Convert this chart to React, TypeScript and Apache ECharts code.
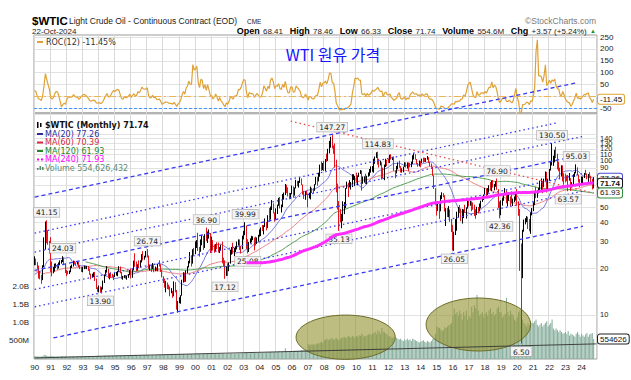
import React, { useEffect, useRef } from "react";
import * as echarts from "echarts";

// ---------------- data (monthly, continuous contract) ----------------
// closes Apr 1983 .. Dec 1989 (used only for moving averages / ROC warm-up)
const PRE_1990_CLOSES: number[] = [
  30.6, 30.4, 31.1, 31.7, 32.0, 30.9, 30.0, 29.2, 29.7,
  29.9, 30.5, 30.9, 30.2, 30.4, 29.7, 27.9, 29.4, 29.4, 28.4, 27.7, 26.4,
  25.9, 27.3, 28.3, 27.2, 27.5, 27.2, 27.4, 28.0, 29.4, 30.8, 30.3, 26.3,
  18.8, 13.3, 10.4, 13.4, 14.9, 12.8, 11.1, 15.9, 14.8, 15.3, 15.0, 17.9,
  18.4, 16.6, 18.8, 18.7, 19.4, 20.3, 20.9, 19.6, 19.6, 19.9, 18.2, 16.7,
  17.0, 16.2, 16.7, 17.9, 17.5, 15.2, 16.0, 15.3, 13.6, 13.8, 14.1, 17.2,
  18.0, 18.0, 20.4, 20.4, 19.8, 20.2, 19.8, 18.7, 20.1, 20.4, 19.7, 21.8,
];

// Jan 1990 .. Oct 2024
const CLOSES: number[] = [
  22.7, 21.5, 20.3, 18.5, 17.5, 16.9, 20.7, 27.3, 39.5, 35.2, 29.6, 28.4,
  21.5, 19.2, 19.6, 20.8, 21.2, 20.2, 21.4, 22.2, 22.2, 23.4, 21.5, 19.1,
  18.9, 18.7, 19.1, 20.4, 21.0, 21.9, 21.8, 21.4, 21.9, 20.6, 20.3, 19.5,
  20.3, 20.4, 20.2, 20.4, 19.6, 18.4, 17.5, 17.9, 18.7, 16.9, 15.0, 14.2,
  15.2, 14.5, 14.7, 16.4, 18.1, 19.1, 19.7, 17.6, 18.4, 18.2, 18.0, 17.8,
  18.4, 18.5, 19.2, 20.4, 18.9, 17.4, 17.6, 17.8, 17.5, 17.6, 18.2, 19.6,
  17.7, 19.5, 21.5, 21.2, 19.8, 20.9, 20.4, 22.3, 24.4, 23.4, 23.8, 25.9,
  24.2, 20.3, 20.4, 20.2, 20.9, 19.8, 20.1, 19.6, 21.2, 21.1, 19.2, 17.6,
  17.2, 15.4, 15.6, 15.4, 15.2, 14.2, 14.2, 13.4, 16.1, 14.4, 11.2, 12.1,
  12.8, 13.4, 16.8, 18.7, 16.8, 19.3, 20.5, 22.1, 24.5, 21.8, 26.2, 25.6,
  27.6, 30.4, 26.9, 25.7, 29.0, 32.5, 27.4, 33.1, 30.8, 32.7, 33.8, 26.8,
  28.7, 27.4, 26.3, 28.5, 28.4, 26.3, 26.4, 27.2, 23.4, 21.2, 19.4, 19.8,
  19.5, 21.7, 26.3, 27.3, 25.3, 26.9, 27.0, 28.9, 30.5, 27.2, 26.9, 31.2,
  33.5, 36.6, 31.0, 25.8, 29.6, 30.2, 30.5, 31.6, 29.2, 29.1, 30.4, 32.5,
  33.1, 36.2, 35.8, 37.4, 39.9, 37.1, 43.8, 42.1, 49.6, 51.8, 49.1, 43.5,
  48.2, 51.8, 55.4, 49.7, 51.97, 56.5, 60.6, 68.9, 66.2, 59.8, 57.3, 61.0,
  67.9, 61.4, 66.6, 71.9, 71.3, 73.9, 74.4, 70.3, 62.9, 58.7, 63.1, 61.1,
  58.1, 61.8, 65.9, 65.7, 64.0, 70.7, 78.2, 74.0, 81.7, 94.5, 88.7, 95.98,
  91.8, 101.8, 101.6, 113.5, 127.4, 140.0, 124.1, 115.5, 100.6, 67.8, 54.4, 44.6,
  41.7, 44.8, 49.7, 51.1, 66.3, 69.9, 69.5, 69.96, 70.6, 77.0, 77.3, 79.4,
  72.9, 79.7, 83.8, 86.2, 74.0, 75.6, 78.95, 71.9, 79.97, 81.4, 84.1, 91.4,
  92.2, 97.0, 106.7, 113.9, 102.7, 95.4, 95.7, 88.8, 79.2, 93.2, 100.4, 98.8,
  98.5, 107.1, 103.0, 104.9, 86.5, 84.96, 88.1, 96.5, 92.2, 86.2, 88.9, 91.8,
  97.5, 92.1, 97.2, 93.5, 91.97, 96.6, 105.0, 107.7, 102.3, 96.4, 92.7, 98.4,
  97.5, 102.6, 101.6, 99.7, 102.7, 105.4, 98.2, 96.0, 91.2, 80.5, 66.2, 53.3,
  48.2, 49.8, 47.6, 59.6, 60.3, 59.5, 47.1, 49.2, 45.1, 46.6, 41.7, 37.0,
  33.6, 33.8, 38.3, 45.9, 49.1, 48.3, 41.6, 44.7, 48.2, 46.9, 49.4, 53.7,
  52.8, 54.0, 50.6, 49.3, 48.3, 46.0, 50.2, 47.2, 51.7, 54.4, 57.4, 60.4,
  64.7, 61.6, 64.9, 68.6, 67.0, 74.2, 68.8, 69.8, 73.3, 65.3, 50.9, 45.4,
  53.8, 57.2, 60.1, 63.9, 53.5, 58.5, 58.6, 55.1, 54.1, 54.2, 55.2, 61.1,
  51.6, 44.8, 20.5, 18.8, 35.5, 39.3, 40.3, 42.6, 40.2, 35.8, 45.3, 48.5,
  52.2, 61.5, 59.2, 63.6, 66.3, 73.5, 73.95, 68.5, 75.0, 83.6, 66.2, 75.2,
  88.2, 95.7, 100.3, 104.7, 114.7, 105.8, 98.6, 89.6, 79.5, 86.5, 80.6, 80.3,
  78.9, 77.1, 75.7, 76.8, 68.1, 70.6, 81.8, 83.6, 90.8, 81.02, 75.96, 71.65,
  75.85, 78.26, 83.17, 81.93, 76.99, 81.54, 77.91, 73.55, 68.17, 71.74,
];

const HIGHS: number[] = [
  24.0, 23.2, 22.0, 20.9, 19.3, 18.2, 21.0, 31.9, 40.4, 41.15, 35.5, 30.2,
  32.0, 22.2, 20.5, 21.5, 21.6, 21.4, 21.9, 22.6, 22.7, 24.03, 23.6, 21.5,
  19.6, 19.3, 19.4, 20.8, 21.2, 22.5, 22.4, 21.9, 22.2, 22.0, 21.0, 20.5,
  20.5, 20.9, 20.8, 20.8, 20.7, 19.9, 18.5, 18.5, 18.9, 19.0, 17.2, 15.1,
  15.5, 15.3, 15.1, 16.7, 18.3, 19.6, 20.7, 19.9, 18.6, 18.9, 18.5, 18.1,
  18.9, 19.0, 19.3, 20.7, 20.6, 19.0, 17.9, 18.1, 18.1, 17.9, 18.4, 19.6,
  20.0, 19.8, 22.5, 25.1, 22.2, 21.3, 22.6, 22.6, 24.8, 25.9, 24.2, 26.0,
  26.74, 24.3, 21.2, 21.2, 21.7, 21.0, 20.6, 20.3, 21.4, 22.6, 21.3, 19.6,
  17.8, 17.2, 16.6, 16.2, 15.7, 15.3, 14.9, 14.3, 16.5, 16.3, 14.5, 12.3,
  13.0, 13.4, 16.9, 18.9, 18.8, 19.4, 20.7, 22.4, 25.6, 24.4, 26.7, 27.2,
  30.0, 30.6, 34.1, 27.6, 30.9, 33.0, 32.6, 33.4, 36.9, 34.8, 35.9, 34.0,
  32.2, 30.6, 28.6, 28.8, 29.6, 29.5, 27.6, 28.5, 29.9, 23.5, 22.6, 20.6,
  21.6, 21.9, 26.4, 27.6, 29.4, 27.2, 27.9, 29.9, 30.9, 30.9, 28.1, 32.7,
  35.1, 39.99, 38.0, 31.0, 29.7, 31.4, 32.6, 32.4, 31.8, 32.2, 31.8, 33.1,
  35.9, 37.0, 38.4, 38.2, 42.3, 40.2, 44.4, 49.4, 50.5, 55.7, 53.0, 46.3,
  49.2, 52.0, 57.6, 58.3, 52.1, 60.95, 62.3, 70.85, 70.0, 67.4, 62.1, 61.9,
  69.2, 68.3, 67.2, 75.35, 74.4, 74.2, 78.4, 76.9, 70.3, 63.9, 63.6, 64.0,
  61.3, 62.3, 68.1, 66.9, 66.6, 70.7, 78.8, 78.8, 83.9, 94.7, 99.3, 97.0,
  100.1, 103.0, 111.8, 119.9, 135.1, 143.7, 147.27, 126.0, 130.0, 102.0, 71.3, 54.9,
  48.6, 45.3, 54.7, 54.1, 66.6, 73.4, 72.2, 75.0, 72.9, 82.0, 82.0, 80.0,
  83.9, 80.5, 83.9, 87.2, 86.8, 79.2, 79.4, 82.6, 80.1, 84.2, 88.6, 92.1,
  92.6, 103.4, 106.9, 113.9, 114.83, 103.4, 100.6, 98.0, 90.5, 94.7, 103.4, 101.8,
  103.7, 109.8, 110.6, 106.4, 106.9, 86.9, 92.9, 97.8, 100.4, 92.6, 89.5, 91.9,
  98.2, 97.8, 97.9, 97.8, 97.3, 99.0, 108.9, 112.2, 110.7, 103.0, 97.0, 100.75,
  100.0, 103.5, 105.2, 104.9, 104.4, 107.7, 105.8, 98.6, 96.3, 91.5, 80.7, 66.6,
  54.0, 54.2, 52.5, 59.9, 62.6, 61.8, 59.9, 49.3, 49.4, 50.9, 48.4, 42.0,
  38.4, 34.7, 41.9, 46.8, 50.2, 51.7, 49.0, 48.8, 48.4, 51.9, 49.9, 55.2,
  55.2, 54.9, 54.6, 53.8, 52.0, 48.6, 50.4, 50.2, 52.9, 55.2, 59.1, 60.5,
  66.7, 66.3, 66.6, 69.6, 72.9, 74.5, 75.3, 70.8, 73.8, 76.9, 65.6, 54.6,
  55.4, 57.8, 60.7, 66.6, 64.3, 59.9, 60.9, 58.8, 63.4, 56.9, 58.8, 61.8,
  65.65, 54.7, 48.7, 29.1, 35.7, 41.6, 42.5, 43.8, 43.4, 41.9, 46.3, 49.4,
  53.9, 63.8, 67.9, 64.6, 67.0, 74.5, 76.98, 74.2, 76.7, 85.4, 84.9, 76.8,
  88.8, 100.0, 130.5, 108.1, 118.1, 123.7, 111.4, 99.0, 90.4, 93.6, 93.7, 83.3,
  82.7, 80.6, 81.0, 83.5, 77.3, 72.7, 82.0, 84.9, 95.03, 90.9, 81.6, 76.2,
  79.3, 79.1, 83.6, 87.67, 83.0, 82.2, 84.5, 80.2, 76.4, 78.46,
];

const LOWS: number[] = [
  21.0, 21.0, 19.9, 17.2, 17.0, 15.9, 16.8, 20.4, 26.5, 29.2, 28.5, 25.0,
  19.0, 17.8, 18.6, 19.1, 20.2, 19.6, 20.0, 21.0, 21.5, 22.0, 21.0, 18.7,
  17.8, 18.3, 18.4, 18.9, 20.1, 20.6, 21.4, 21.0, 21.2, 20.4, 19.8, 19.0,
  18.9, 19.8, 19.9, 19.8, 19.3, 18.2, 17.0, 17.4, 17.6, 16.6, 14.7, 14.1,
  14.0, 13.9, 14.1, 14.6, 16.1, 17.9, 18.8, 17.3, 17.0, 17.4, 17.5, 16.8,
  17.6, 18.0, 17.8, 19.0, 18.6, 17.1, 16.9, 17.3, 17.2, 16.9, 17.4, 18.1,
  17.2, 17.4, 19.4, 20.5, 19.2, 19.4, 20.1, 20.3, 21.9, 22.6, 22.8, 23.6,
  23.6, 19.9, 19.4, 19.0, 19.8, 18.9, 19.2, 19.3, 19.2, 20.6, 19.0, 17.5,
  16.1, 15.0, 14.0, 14.7, 14.6, 13.2, 13.8, 12.9, 13.2, 14.0, 10.8, 10.35,
  11.9, 11.8, 13.3, 16.2, 16.3, 16.4, 18.6, 20.3, 21.6, 20.6, 21.5, 24.2,
  24.8, 27.2, 26.0, 23.9, 25.7, 28.3, 26.4, 27.2, 30.2, 29.3, 31.3, 25.2,
  26.1, 26.2, 25.3, 25.8, 26.7, 25.4, 25.2, 26.2, 21.6, 20.6, 17.12, 17.9,
  17.9, 19.2, 21.5, 24.6, 24.9, 24.1, 25.6, 26.6, 28.2, 26.4, 25.0, 26.7,
  30.9, 32.9, 26.8, 25.08, 25.6, 29.1, 29.6, 30.6, 26.2, 28.2, 28.9, 29.9,
  32.2, 32.5, 35.0, 33.3, 37.2, 35.4, 36.6, 40.3, 41.6, 48.0, 45.6, 40.3,
  41.3, 45.2, 51.1, 49.1, 46.2, 50.1, 56.0, 60.1, 61.8, 58.8, 56.3, 56.7,
  60.8, 57.6, 59.5, 66.3, 68.6, 67.1, 72.0, 69.6, 60.4, 56.7, 55.9, 60.0,
  49.9, 57.1, 56.2, 61.9, 61.5, 64.0, 70.1, 69.0, 73.6, 79.0, 86.0, 87.1,
  86.1, 86.1, 98.7, 100.1, 112.0, 122.0, 120.4, 111.3, 90.5, 62.5, 48.3, 35.13,
  39.8, 36.5, 40.6, 45.1, 49.3, 65.9, 58.3, 67.3, 65.1, 67.6, 75.2, 68.6,
  72.4, 69.5, 78.7, 82.4, 64.2, 71.1, 72.3, 70.8, 70.7, 79.0, 80.1, 83.9,
  85.1, 83.9, 95.8, 104.6, 94.6, 90.6, 93.6, 75.7, 77.1, 74.95, 91.4, 92.5,
  97.2, 96.9, 102.1, 101.3, 86.3, 77.3, 83.0, 88.2, 90.3, 84.1, 84.0, 84.5,
  91.6, 90.7, 89.3, 85.6, 91.0, 91.1, 95.7, 102.2, 101.8, 95.5, 91.8, 92.2,
  91.2, 96.6, 97.4, 98.4, 98.6, 101.9, 96.8, 92.5, 90.4, 80.0, 65.7, 52.4,
  44.2, 47.4, 42.0, 47.1, 56.5, 58.0, 46.9, 37.75, 43.2, 43.0, 40.2, 34.5,
  26.2, 26.05, 33.0, 35.2, 43.0, 45.8, 40.6, 39.2, 42.5, 46.1, 42.2, 49.0,
  50.7, 51.2, 47.1, 48.2, 43.8, 42.05, 44.5, 45.6, 47.0, 49.1, 54.2, 55.8,
  59.9, 58.1, 59.9, 62.3, 64.4, 63.6, 67.0, 64.4, 67.9, 64.9, 49.4, 42.36,
  44.4, 51.2, 55.1, 59.9, 53.0, 50.6, 55.0, 50.5, 53.0, 50.9, 54.0, 55.3,
  51.3, 44.0, 19.3, 6.5, 17.3, 34.7, 38.7, 40.0, 36.1, 34.9, 33.6, 44.3,
  47.2, 51.6, 57.3, 57.6, 61.6, 64.6, 65.0, 61.7, 67.6, 74.2, 62.4, 64.6,
  74.3, 86.6, 93.5, 92.9, 97.9, 104.6, 88.2, 85.7, 76.3, 79.3, 73.6, 70.1,
  72.7, 73.8, 63.57, 74.5, 63.9, 66.8, 69.0, 78.8, 83.1, 80.8, 72.4, 67.7,
  69.3, 71.4, 77.4, 81.0, 76.0, 72.5, 77.5, 71.5, 65.27, 66.33,
];

// monthly volume, millions
const VOLUME_M: number[] = [
  75, 80, 70, 72, 68, 66, 78, 110, 105, 95, 80, 70,
  98, 85, 72, 70, 68, 66, 70, 72, 74, 80, 78, 76,
  74, 72, 70, 76, 74, 78, 72, 70, 74, 78, 76, 72,
  76, 72, 78, 74, 76, 80, 78, 76, 82, 84, 86, 88,
  90, 88, 86, 92, 94, 90, 96, 92, 90, 94, 96, 92,
  90, 94, 96, 92, 94, 96, 98, 94, 92, 96, 100, 98,
  100, 104, 110, 118, 106, 100, 104, 102, 106, 112, 108, 104,
  110, 106, 104, 102, 108, 106, 104, 110, 112, 116, 114, 118,
  120, 118, 126, 122, 120, 124, 118, 122, 126, 128, 132, 130,
  134, 128, 138, 140, 132, 130, 136, 138, 140, 136, 134, 138,
  140, 146, 150, 142, 138, 144, 140, 146, 150, 148, 144, 140,
  138, 136, 142, 140, 138, 144, 146, 140, 150, 148, 142, 140,
  146, 144, 150, 152, 148, 146, 150, 154, 152, 156, 158, 160,
  170, 172, 180, 166, 162, 160, 164, 168, 166, 170, 172, 168,
  176, 180, 178, 184, 188, 182, 190, 192, 196, 200, 194, 188,
  196, 200, 210, 208, 204, 212, 210, 300, 214, 206, 210, 216,
  224, 220, 230, 232, 228, 226, 236, 240, 250, 248, 238, 242,
  420, 380, 400, 410, 396, 404, 420, 440, 430, 460, 480, 440,
  520, 540, 560, 520, 540, 560, 580, 520, 560, 580, 540, 520,
  560, 580, 600, 620, 580, 600, 640, 620, 600, 640, 620, 580,
  640, 620, 660, 640, 700, 660, 620, 640, 660, 680, 700, 660,
  700, 720, 760, 680, 800, 760, 700, 860, 760, 740, 700, 680,
  620, 640, 600, 580, 620, 600, 580, 560, 540, 560, 520, 500,
  540, 520, 560, 520, 540, 500, 560, 540, 520, 500, 480, 460,
  480, 500, 520, 480, 460, 500, 480, 460, 500, 560, 580, 700,
  900, 880, 860, 820, 780, 800, 880, 860, 900, 940, 960, 1000,
  1200, 1400, 1250, 1300, 1200, 1350, 1250, 1100, 1300, 1200, 1350, 1100,
  1200, 1150, 1450, 1300, 1500, 1400, 1780, 1350, 1200, 1250, 1300, 1150,
  1250, 1300, 1200, 1350, 1400, 1250, 1300, 1200, 1250, 1400, 1450, 1300,
  1300, 1150, 1200, 1250, 1700, 1300, 1200, 1350, 1250, 1200, 1100, 1050,
  1150, 1300, 1350, 1250, 1100, 1000, 950, 900, 1000, 950, 1050, 1000,
  1000, 1050, 1100, 950, 900, 950, 1000, 900, 950, 1000, 1050, 900,
  950, 1000, 1100, 850, 800, 850, 800, 750, 800, 750, 700, 720,
  750, 700, 780, 650, 700, 680, 650, 620, 700, 750, 680, 620,
  700, 650, 620, 680, 720, 620, 680, 700, 720, 554.6,
];

const START_YEAR = 1990;
const PAD_MONTHS = 2;

const PRICE_LABELS = [10, 20, 30, 40, 50, 90, 100, 110, 120, 130, 140, 150];
const PRICE_GRID = [10, 20, 30, 40, 50, 60, 70, 80, 90, 100, 110, 120, 130, 140, 150, 200];
const ROC_LABELS = [-50, 50, 100, 150, 200, 250];
const ROC_GRID = [-50, 0, 50, 100, 150, 200, 250];
const VOLUME_LABELS: Record<string, string> = { "500000000": "500M", "1000000000": "1.0B", "1500000000": "1.5B", "2000000000": "2.0B" };

// [month index from Jan 1990, price, text, side]
const PEAK_LABELS: [number, number, string, string][] = [
  [9, 41.15, "41.15", "top"], [21, 24.03, "24.03", "top"], [49, 13.9, "13.90", "bottom"],
  [84, 26.74, "26.74", "top"], [128, 36.9, "36.90", "top"], [142, 17.12, "17.12", "bottom"],
  [157, 39.99, "39.99", "top"], [159, 25.08, "25.08", "bottom"], [222, 147.27, "147.27", "top"],
  [227, 35.13, "35.13", "bottom"], [256, 114.83, "114.83", "top"], [313, 26.05, "26.05", "bottom"],
  [345, 76.9, "76.90", "top"], [347, 42.36, "42.36", "bottom"], [363, 6.5, "6.50", "bottom"],
  [386, 130.5, "130.50", "top"], [404, 95.03, "95.03", "top"], [398, 63.57, "63.57", "bottom"],
];

// channel lines [startIdx, startPrice, endIdx, endPrice, style]
const CHANNEL_LINES: [number, number, number, number, string][] = [
  [0, 58.2, 295, 203.0, "dashed"],
  [0, 33.96, 390, 177.1, "dotted"],
  [0, 25.56, 409, 144.4, "dotted"],
  [0, 19.43, 409, 109.8, "dashed"],
  [0, 14.62, 409, 82.6, "dotted"],
  [0, 11.27, 409, 63.68, "dotted"],
  [14, 7.07, 409, 37.64, "dashed"],
];
const CHANNEL_IN_ROC: [number, number, number, number] = [298, -68, 405, 58.8];
const RESISTANCE_LINE: [number, number, number, number] = [191, 181.5, 417, 61.9];
const VOLUME_TREND_M: [number, number, number, number] = [0, 30, 419, 420];
// [startIdx, endIdx, volLowM, volHighM]
const VOLUME_ELLIPSES: [number, number, number, number][] = [
  [195, 269, -10, 1220],
  [292, 370, 222, 1694],
];

// ---------------- helpers ----------------
const ALL_CLOSES = PRE_1990_CLOSES.concat(CLOSES);
const OFFSET = PRE_1990_CLOSES.length;
const N = CLOSES.length + PAD_MONTHS;

const categories: string[] = [];
for (let i = 0; i < N; i++) {
  const y = START_YEAR + Math.floor(i / 12);
  const m = (i % 12) + 1;
  categories.push(`${y}-${m < 10 ? "0" + m : m}`);
}

function movingAverage(n: number) {
  const out: any[] = [];
  for (let j = 0; j < N; j++) {
    const i = j + OFFSET;
    if (i >= ALL_CLOSES.length || i < n - 1) { out.push("-"); continue; }
    let s = 0;
    for (let k = i - n + 1; k <= i; k++) s += ALL_CLOSES[k];
    out.push(+(s / n).toFixed(2));
  }
  return out;
}

function rocSeries() {
  const out: any[] = [];
  for (let j = 0; j < N; j++) {
    const i = j + OFFSET;
    if (i >= ALL_CLOSES.length) { out.push("-"); continue; }
    out.push(+((ALL_CLOSES[i] / ALL_CLOSES[i - 12] - 1) * 100).toFixed(2));
  }
  return out;
}

function candleData() {
  const out: any[] = [];
  for (let j = 0; j < N; j++) {
    if (j >= CLOSES.length) { out.push("-"); continue; }
    const open = ALL_CLOSES[j + OFFSET - 1];
    out.push([open, CLOSES[j], LOWS[j], HIGHS[j]]);
  }
  return out;
}

function volumeData() {
  const out: any[] = [];
  for (let j = 0; j < N; j++) out.push(j < VOLUME_M.length ? VOLUME_M[j] * 1e6 : "-");
  return out;
}

const BLUE = "#3a3af5";
const lineTypes: Record<string, any> = {
  dashed: { color: BLUE, width: 1.3, type: [4, 3] },
  dotted: { color: BLUE, width: 1.3, type: [1.5, 3] },
};

function buildOption(): any {
  const xCommon = {
    type: "category",
    data: categories,
    boundaryGap: true,
    axisLine: { show: false },
    axisTick: { show: false },
    splitLine: { show: true, interval: (i: number) => i % 12 === 0, lineStyle: { color: "#dadada", width: 1 } },
  };
  const axisFont = { fontSize: 8, color: "#222", fontFamily: "Liberation Sans" };
  return {
    animation: false,
    backgroundColor: "#ffffff",
    grid: [
      { left: 34, right: 34, top: 35, height: 78, show: true, borderColor: "#9a9a9a", borderWidth: 1 },
      { left: 34, right: 34, top: 113, height: 246, show: true, borderColor: "#9a9a9a", borderWidth: 1 },
    ],
    xAxis: [
      { ...xCommon, gridIndex: 0, axisLabel: { show: false } },
      {
        ...xCommon, gridIndex: 1,
        axisLabel: { show: true, interval: (i: number) => i % 12 === 0, formatter: (v: string) => v.slice(2, 4), margin: 4, ...axisFont },
      },
    ],
    yAxis: [
      {
        gridIndex: 0, type: "value", position: "right", min: -68.9, max: 258.4,
        axisLine: { show: false },
        axisTick: { show: false, customValues: ROC_GRID },
        axisLabel: { customValues: ROC_LABELS, margin: 3, ...axisFont },
        splitLine: { show: true, lineStyle: { color: "#e2e2e2" } },
      },
      {
        gridIndex: 1, type: "log", logBase: 10, position: "right", min: 5.16, max: 205,
        axisLine: { show: false },
        axisTick: { show: false, customValues: PRICE_GRID },
        axisLabel: { customValues: PRICE_LABELS, margin: 3, formatter: (v: number) => String(Math.round(v)), ...axisFont, fontSize: 7.5 },
        splitLine: { show: true, lineStyle: { color: "#e2e2e2" } },
      },
      {
        gridIndex: 1, type: "value", position: "left", min: 0, max: 6833e6, interval: 5e8,
        axisLine: { show: false }, axisTick: { show: false }, splitLine: { show: false },
        axisLabel: { margin: 5, formatter: (v: number) => VOLUME_LABELS[String(Math.round(v))] || "", ...axisFont },
      },
    ],
    series: [
      {
        name: "ROC", type: "line", xAxisIndex: 0, yAxisIndex: 0, data: rocSeries(),
        symbol: "none", z: 3, lineStyle: { color: "#e0a236", width: 1.2 },
        markLine: {
          silent: true, symbol: ["none", "none"], label: { show: false },
          data: [
            { yAxis: 0, lineStyle: { color: "#eab45a", width: 1, type: [7, 3, 2, 3] } },
            { yAxis: -50, lineStyle: { color: "#3f95ff", width: 1.2, type: [3, 2] } },
            [
              { coord: [CHANNEL_IN_ROC[0], CHANNEL_IN_ROC[1]], lineStyle: lineTypes.dashed },
              { coord: [CHANNEL_IN_ROC[2], CHANNEL_IN_ROC[3]] },
            ],
          ],
        },
      },
      {
        name: "Volume", type: "bar", xAxisIndex: 1, yAxisIndex: 2, data: volumeData(),
        barCategoryGap: "20%", z: 1, itemStyle: { color: "#89b09e" },
        markLine: {
          silent: true, symbol: ["none", "none"], label: { show: false },
          data: [[
            { coord: [VOLUME_TREND_M[0], VOLUME_TREND_M[1] * 1e6], lineStyle: { color: "#333", width: 0.9, type: "solid" } },
            { coord: [VOLUME_TREND_M[2], VOLUME_TREND_M[3] * 1e6] },
          ]],
        },
      },
      {
        name: "MA20", type: "line", xAxisIndex: 1, yAxisIndex: 1, data: movingAverage(20),
        symbol: "none", z: 3, lineStyle: { color: "#7474dc", width: 1 },
      },
      {
        name: "MA60", type: "line", xAxisIndex: 1, yAxisIndex: 1, data: movingAverage(60),
        symbol: "none", z: 3, lineStyle: { color: "#ec7f86", width: 1 },
      },
      {
        name: "MA120", type: "line", xAxisIndex: 1, yAxisIndex: 1, data: movingAverage(120),
        symbol: "none", z: 3, lineStyle: { color: "#4f9d4f", width: 1 },
      },
      {
        name: "WTIC", type: "candlestick", xAxisIndex: 1, yAxisIndex: 1, data: candleData(),
        barWidth: 1.2, z: 4,
        itemStyle: { color: "#000000", color0: "#e3141e", borderColor: "#000000", borderColor0: "#e3141e", borderWidth: 1 },
        markLine: {
          silent: true, symbol: ["none", "none"], label: { show: false },
          data: [
            ...CHANNEL_LINES.map(([a, p, b, q, s]) => [
              { coord: [a, p], lineStyle: lineTypes[s] },
              { coord: [b, q] },
            ]),
            [
              { coord: [RESISTANCE_LINE[0], RESISTANCE_LINE[1]], lineStyle: { color: "#f04848", width: 1.3, type: [1.5, 3] } },
              { coord: [RESISTANCE_LINE[2], RESISTANCE_LINE[3]] },
            ],
          ],
        },
        markPoint: {
          silent: true, symbol: "rect", symbolSize: 1,
          itemStyle: { color: "rgba(0,0,0,0)" },
          label: {
            show: true, fontSize: 7.5, color: "#222", fontFamily: "DejaVu Sans",
            backgroundColor: "#f3f3f3", borderColor: "#a9a9a9", borderWidth: 0.6, padding: [1, 2, 0, 2],
          },
          data: PEAK_LABELS.map(([i, p, t, side]) => ({
            coord: [i, p],
            label: { position: side, distance: 3, formatter: t },
          })),
        },
      },
      {
        name: "MA240", type: "line", xAxisIndex: 1, yAxisIndex: 1, data: movingAverage(240),
        symbol: "none", z: 5, lineStyle: { color: "#ff2bff", width: 3 },
      },
    ],
  };
}

function txt(x: number, y: number, text: string, font: string, fill: string, align = "left", extra: any = {}) {
  return {
    type: "text", x, y, z: 30, silent: true,
    style: {
      text, font, fill,
      align, verticalAlign: "middle", textAlign: align, textVerticalAlign: "middle",
      ...extra,
    },
  };
}

function buildGraphics(chart: any) {
  const els: any[] = [];
  const F = (size: number, weight = "normal", fam = "Liberation Sans") => `${weight} ${size}px "${fam}"`;

  // header
  els.push(txt(32, 20.5, "$WTIC", F(11.5, "bold"), "#000"));
  els.push(txt(69, 21, "Light Crude Oil - Continuous Contract (EOD)", F(8.5), "#222"));
  els.push(txt(247, 21.5, "CME", F(6.5), "#222"));
  els.push(txt(596, 21, "\u00A9StockCharts.com", F(8.5), "#7a7a7a", "right"));
  els.push(txt(32, 31, "22-Oct-2024", F(8), "#222"));
  els.push({
    type: "text", x: 596, y: 31, z: 30, silent: true,
    style: {
      text: "{b|Open} {v|68.41}  {b|High} {v|78.46}  {b|Low} {v|66.33}  {b|Close} {v|71.74}  {b|Volume} {v|554.6M}  {b|Chg} {v|+3.57 (+5.24%)} {g|\u25B2}",
      align: "right", verticalAlign: "middle", textAlign: "right", textVerticalAlign: "middle",
      rich: {
        b: { font: F(9, "bold"), fill: "#000" },
        v: { font: F(8), fill: "#222" },
        g: { font: F(6), fill: "#1a9a1a" },
      },
    },
  });

  // title in ROC panel
  els.push(txt(333, 54, "WTI 원유 가격", F(16, "normal", "Noto Sans CJK KR"), "#1515ff", "center"));

  // ROC legend
  els.push({ type: "line", z: 30, silent: true, shape: { x1: 37, y1: 42, x2: 43, y2: 42 }, style: { stroke: "#e0a236", lineWidth: 2 } });
  els.push(txt(46, 42, "ROC(12) -11.45%", F(8, "normal", "DejaVu Sans"), "#333"));

  // main legend
  const LX = 45;
  els.push({ type: "rect", z: 30, silent: true, shape: { x: 37, y: 122, width: 1.5, height: 6 }, style: { fill: "#000" } });
  els.push({ type: "rect", z: 30, silent: true, shape: { x: 40, y: 123, width: 1.5, height: 4 }, style: { fill: "#000" } });
  els.push(txt(LX, 125, "$WTIC (Monthly) 71.74", F(8, "bold", "DejaVu Sans"), "#111"));
  const legendLines: [number, string, string, string, any][] = [
    [134, "MA(20) 77.26", "#2b2b9e", "#2b2b9e", "solid"],
    [142.5, "MA(60) 70.39", "#d42a42", "#d42a42", "solid"],
    [151, "MA(120) 61.93", "#23862a", "#23862a", "solid"],
    [159.5, "MA(240) 71.93", "#ff00ff", "#ff00ff", [2, 2]],
  ];
  legendLines.forEach(([y, t, c, lc, ty]) => {
    els.push({ type: "line", z: 30, silent: true, shape: { x1: 37, y1: y, x2: 43, y2: y }, style: { stroke: lc, lineWidth: 2, lineDash: ty === "solid" ? null : ty } });
    els.push(txt(LX, y, t, F(8, "normal", "DejaVu Sans"), c));
  });
  [[37, 2], [39.5, 4], [42, 3]].forEach(([x, h]) => {
    els.push({ type: "rect", z: 30, silent: true, shape: { x, y: 170 - h, width: 1.6, height: h }, style: { fill: "#5e8a74" } });
  });
  els.push(txt(LX, 168, "Volume 554,626,432", F(8, "normal", "DejaVu Sans"), "#5e8a74"));

  // ellipses on volume
  VOLUME_ELLIPSES.forEach(([a, b, lo, hi]) => {
    const p1 = chart.convertToPixel({ seriesIndex: 1 }, [a, hi * 1e6]);
    const p2 = chart.convertToPixel({ seriesIndex: 1 }, [b, lo * 1e6]);
    els.push({
      type: "ellipse", z: 3, silent: true,
      shape: { cx: (p1[0] + p2[0]) / 2, cy: (p1[1] + p2[1]) / 2, rx: Math.abs(p2[0] - p1[0]) / 2, ry: Math.abs(p2[1] - p1[1]) / 2 },
      style: { fill: "rgba(148,148,52,0.62)", stroke: "#6c6c28", lineWidth: 1 },
    });
  });

  // value boxes on right axis
  const box = (y: number, text: string, border: string, bold = false) => ({
    type: "text", x: 598, y, z: 40, silent: true,
    style: {
      text, font: F(8, bold ? "bold" : "normal", "Liberation Sans"), fill: "#111",
      align: "left", verticalAlign: "middle", textAlign: "left", textVerticalAlign: "middle",
      backgroundColor: "#ffffff", borderColor: border, borderWidth: 1, borderRadius: 2, padding: [1, 2, 0, 2],
    },
  });
  els.push(box(chart.convertToPixel({ yAxisIndex: 0 }, -11.45), "-11.45", "#e0a236"));
  els.push(box(chart.convertToPixel({ yAxisIndex: 1 }, 77.26), "77.26", "#4a4ad6"));
  els.push(box(chart.convertToPixel({ yAxisIndex: 1 }, 71.74), "71.74", "#111", true));
  els.push(box(chart.convertToPixel({ yAxisIndex: 1 }, 61.93), "61.93", "#2f8f3a"));
  els.push(box(chart.convertToPixel({ yAxisIndex: 2 }, 554626432), "554626", "#222"));

  return els;
}

export default function App() {
  const ref = useRef<HTMLDivElement>(null);
  useEffect(() => {
    if (!ref.current) return;
    const chart = echarts.init(ref.current, null, { renderer: "svg" });
    chart.setOption(buildOption());
    chart.setOption({ graphic: { elements: buildGraphics(chart) } });
    return () => chart.dispose();
  }, []);
  return <div ref={ref} style={{ position: "absolute", left: 0, top: 0, width: 631, height: 380 }} />;
}
